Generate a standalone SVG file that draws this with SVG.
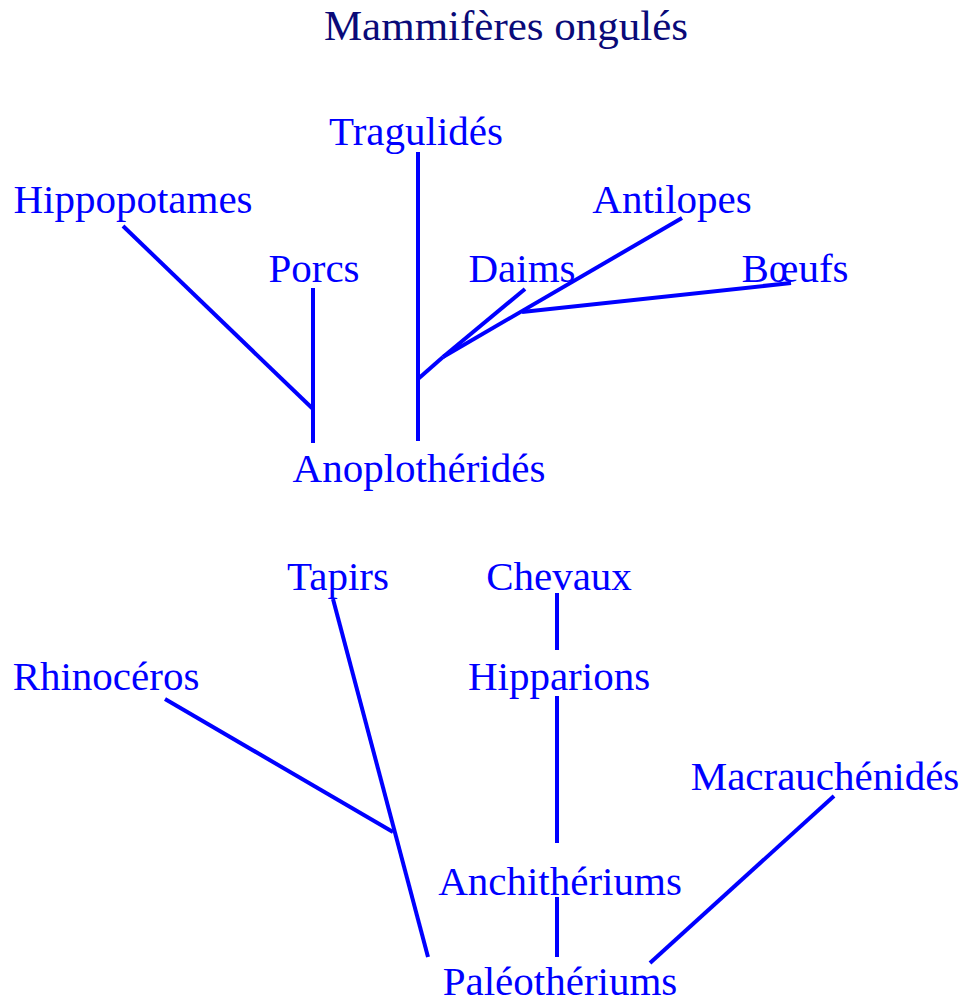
<svg xmlns="http://www.w3.org/2000/svg" width="964" height="1003" viewBox="0 0 964 1003">
<style>
text{font-family:"Liberation Serif","Times New Roman",serif;font-size:41px;fill:#0000ff;text-anchor:middle}
.title{font-size:43px;fill:#0a0a78}
.c line{stroke:#0000ff;stroke-width:4;stroke-linecap:butt}
</style>
<rect width="964" height="1003" fill="#ffffff"/>
<text class="title" x="506" y="40">Mammifères ongulés</text>
<g class="c" id="connectors">
<line x1="418" y1="152" x2="418" y2="441"/>
<line x1="313" y1="288" x2="313" y2="443"/>
<line x1="123" y1="226" x2="313" y2="409"/>
<line x1="418" y1="379" x2="443" y2="357"/>
<line x1="443" y1="357" x2="525" y2="289"/>
<line x1="443" y1="357" x2="682" y2="218"/>
<line x1="522" y1="312" x2="791" y2="283"/>
<line x1="333" y1="599" x2="428" y2="957"/>
<line x1="165" y1="699" x2="393" y2="832"/>
<line x1="557" y1="593" x2="557" y2="650"/>
<line x1="557" y1="696" x2="557" y2="843"/>
<line x1="557" y1="897" x2="557" y2="957"/>
<line x1="834" y1="796" x2="650" y2="963"/>
</g>
<g id="n-tragulides"><text x="416" y="145">Tragulidés</text></g>
<g id="n-hippopotames"><text x="133" y="213">Hippopotames</text></g>
<g id="n-antilopes"><text x="672" y="213">Antilopes</text></g>
<g id="n-porcs"><text x="314" y="282">Porcs</text></g>
<g id="n-daims"><text x="522" y="282">Daims</text></g>
<g id="n-boeufs"><text x="795" y="282">Bœufs</text></g>
<g id="n-anoplotherides"><text x="419" y="482">Anoplothéridés</text></g>
<g id="n-tapirs"><text x="338" y="590">Tapirs</text></g>
<g id="n-chevaux"><text x="559" y="590">Chevaux</text></g>
<g id="n-rhinoceros"><text x="106" y="690">Rhinocéros</text></g>
<g id="n-hipparions"><text x="559" y="690">Hipparions</text></g>
<g id="n-macrauchenides"><text x="825" y="790">Macrauchénidés</text></g>
<g id="n-anchitheriums"><text x="560" y="895">Anchithériums</text></g>
<g id="n-paleotheriums"><text x="560" y="995">Paléothériums</text></g>
</svg>
